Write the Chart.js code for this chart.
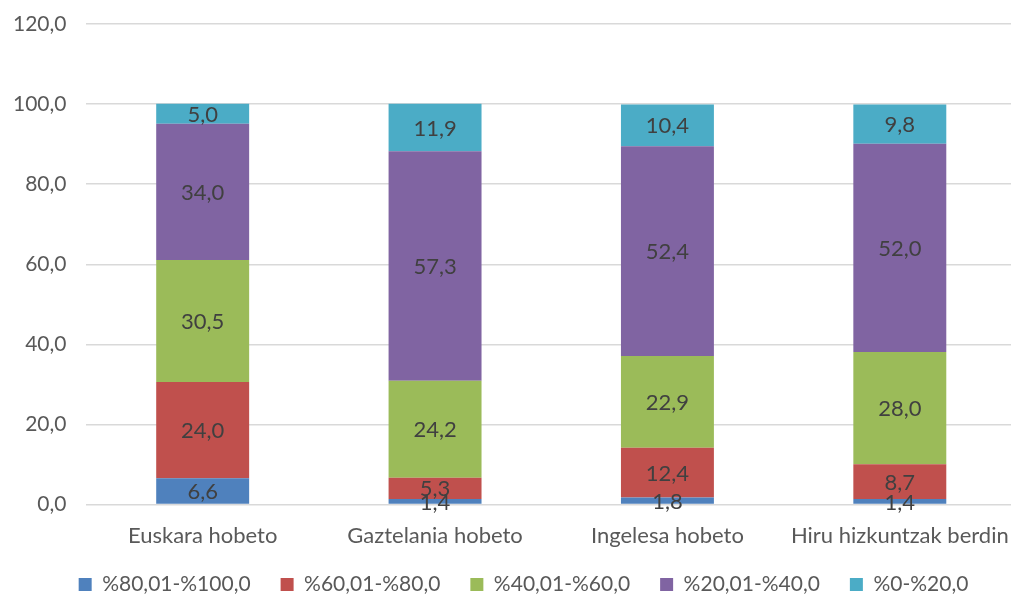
<!DOCTYPE html>
<html>
<head>
<meta charset="utf-8">
<script src="https://cdn.jsdelivr.net/npm/chart.js@4/dist/chart.umd.min.js"></script>
<style>
  html, body { margin: 0; padding: 0; background: #fff; overflow: hidden; }
  #wrap { width: 1016px; height: 599px; position: relative; }
</style>
</head>
<body>
<div id="wrap"><canvas id="chart"></canvas></div>
<script>
// kategoriak
const categories = ['Euskara hobeto', 'Gaztelania hobeto', 'Ingelesa hobeto', 'Hiru hizkuntzak berdin'];

// serie bakoitzaren balioak (%)
const s80_100 = [6.6, 1.4, 1.8, 1.4];
const s60_80 = [24.0, 5.3, 12.4, 8.7];
const s40_60 = [30.5, 24.2, 22.9, 28.0];
const s20_40 = [34.0, 57.3, 52.4, 52.0];
const s0_20 = [5.0, 11.9, 10.4, 9.8];

const seriesNames = ['%80,01-%100,0', '%60,01-%80,0', '%40,01-%60,0', '%20,01-%40,0', '%0-%20,0'];
const seriesColors = ['#4F81BD', '#C0504D', '#9BBB59', '#8064A2', '#4BACC6'];
const seriesValues = [s80_100, s60_80, s40_60, s20_40, s0_20];

const FONT = 'Lato, "Open Sans", sans-serif';
const fmt = v => v.toFixed(1).replace('.', ',');

// balioak barra zati bakoitzaren erdian idazten ditu
const barLabels = {
    id: 'barLabels',
    afterDatasetsDraw(chart) {
        const ctx = chart.ctx;
        ctx.save();
        ctx.font = '22px ' + FONT;
        ctx.fillStyle = '#404040';
        ctx.textAlign = 'center';
        ctx.textBaseline = 'middle';
        chart.data.datasets.forEach((ds, i) => {
            chart.getDatasetMeta(i).data.forEach((bar, j) => {
                const y = (bar.y + bar.base) / 2;
                ctx.fillText(fmt(ds.data[j]), bar.x, y + 1);
            });
        });
        ctx.restore();
    }
};

// legenda ardatzetik hurbilago eta pixka bat eskuinera
const legendShift = {
    id: 'legendShift',
    afterLayout(chart) {
        const lg = chart.legend;
        if (lg) {
            lg.left += 19;
            lg.right += 19;
            lg.top -= 15;
            lg.bottom -= 15;
        }
    }
};

new Chart(document.getElementById('chart'), {
    type: 'bar',
    data: {
        labels: categories,
        datasets: seriesValues.map((vals, i) => ({
            label: seriesNames[i],
            data: vals,
            backgroundColor: seriesColors[i],
            borderWidth: 0,
            barPercentage: 0.4,
            categoryPercentage: 1
        }))
    },
    options: {
        responsive: true,
        maintainAspectRatio: false,
        animation: false,
        layout: { padding: { top: 24, right: 0, left: -7, bottom: -21 } },
        scales: {
            x: {
                stacked: true,
                grid: { display: false },
                border: { display: false },
                ticks: { color: '#595959', font: { family: FONT, size: 22 }, padding: 10 },
                afterFit: s => { s.paddingLeft = 0; s.paddingRight = 0; }
            },
            y: {
                stacked: true,
                min: 0,
                max: 120,
                ticks: {
                    stepSize: 20,
                    color: '#595959',
                    font: { family: FONT, size: 21 },
                    padding: 20,
                    callback: v => fmt(v)
                },
                grid: { color: '#d9d9d9', lineWidth: 1.5, drawTicks: false },
                border: { display: false },
                afterFit: s => { s.paddingTop = 0; s.paddingBottom = 0; }
            }
        },
        plugins: {
            legend: {
                position: 'bottom',
                labels: {
                    boxWidth: 13,
                    boxHeight: 13,
                    padding: 30,
                    color: '#595959',
                    font: { family: FONT, size: 21 }
                }
            },
            tooltip: { enabled: false }
        }
    },
    plugins: [barLabels, legendShift]
});
</script>
</body>
</html>
